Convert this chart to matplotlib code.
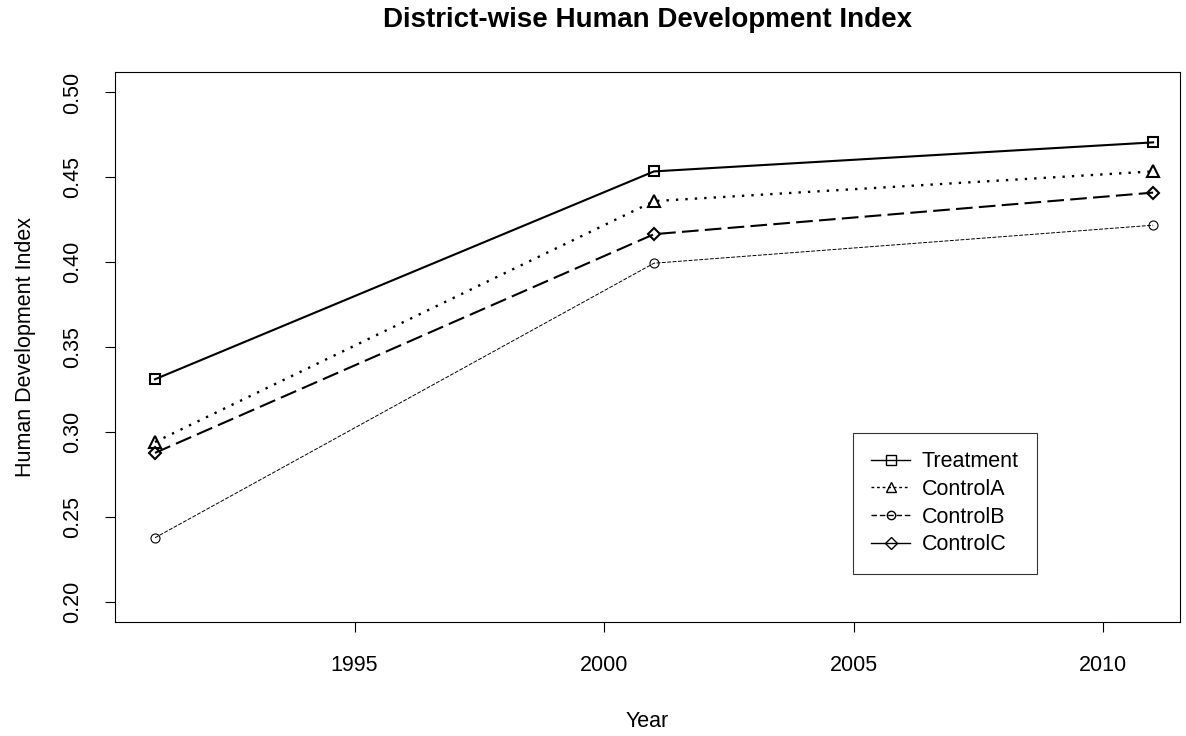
import matplotlib
matplotlib.use("Agg")
import matplotlib.pyplot as plt
from matplotlib.lines import Line2D

plt.rcParams['font.family'] = ['Liberation Sans', 'DejaVu Sans']

# Daten
jahre = [1991, 2001, 2011]
treatment = [0.331, 0.4535, 0.4706]
control_a = [0.294, 0.436, 0.4535]
control_b = [0.2376, 0.3994, 0.4218]
control_c = [0.2876, 0.4165, 0.441]
y_ticks = [0.20, 0.25, 0.30, 0.35, 0.40, 0.45, 0.50]
x_ticks = [1995, 2000, 2005, 2010]
namen = ['Treatment', 'ControlA', 'ControlB', 'ControlC']

fs = 15.5

fig = plt.figure(figsize=(11.86, 7.36), dpi=100)
ax = fig.add_axes([0.097, 0.155, 0.898, 0.747])

ax.plot(jahre, treatment, color='black', lw=1.5, marker='s', ms=7,
        mfc='none', mew=1.5)
ax.plot(jahre, control_a, color='black', lw=1.7, linestyle=(0, (1, 3)),
        marker='^', ms=8, mfc='none', mew=1.5)
ax.plot(jahre, control_b, color='black', lw=0.7, linestyle=(0, (4, 1.5)),
        marker='o', ms=6.5, mfc='none', mew=0.8)
ax.plot(jahre, control_c, color='black', lw=1.5, linestyle=(0, (8, 3)),
        marker='D', ms=6.5, mfc='none', mew=1.5)

ax.set_xlim(1990.2, 2011.54)
ax.set_ylim(0.188, 0.512)
ax.set_xticks(x_ticks)
ax.set_yticks(y_ticks)
ax.set_yticklabels(['%.2f' % v for v in y_ticks], rotation=90, va='center')
ax.tick_params(direction='out', length=7, width=0.8, labelsize=fs)
ax.tick_params(axis='x', pad=17)
ax.tick_params(axis='y', pad=16)
for s in ax.spines.values():
    s.set_linewidth(0.8)

ax.set_xlabel('Year', fontsize=fs, labelpad=25)
ax.set_ylabel('Human Development Index', fontsize=fs, labelpad=19)
# Titel über dem Plotbereich zentriert (wie in R)
pos = ax.get_position()
fig.text((pos.x0 + pos.x1) / 2, 1 - 20 / 736,
         'District-wise Human Development Index', fontsize=20,
         fontweight='bold', ha='center', va='center')

handles = [
    Line2D([], [], color='black', lw=1, marker='s', mfc='none', ms=6.5),
    Line2D([], [], color='black', lw=1, linestyle=(0, (2, 2)), marker='^', mfc='none', ms=7),
    Line2D([], [], color='black', lw=1, linestyle=(0, (4, 2)), marker='o', mfc='none', ms=6),
    Line2D([], [], color='black', lw=1, marker='D', mfc='none', ms=6),
]
leg = ax.legend(handles, namen, loc='upper left',
                bbox_to_anchor=(853 / 1186, 1 - 433 / 736),
                bbox_transform=fig.transFigure, borderaxespad=0,
                fontsize=fs, frameon=True, fancybox=False, edgecolor='black',
                handlelength=1.8, borderpad=0.85, labelspacing=0.31,
                handletextpad=0.55)
leg.get_frame().set_linewidth(0.8)

fig.savefig('out.png', dpi=100)
